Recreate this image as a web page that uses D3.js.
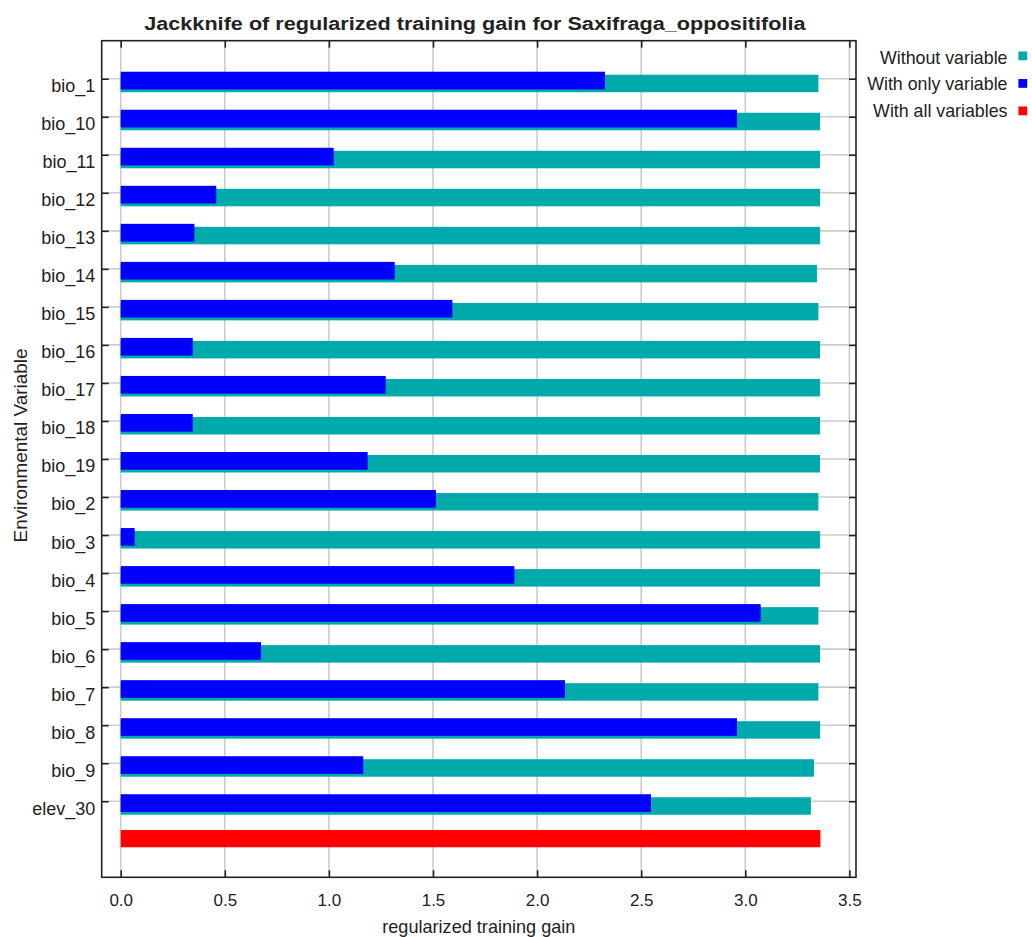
<!DOCTYPE html>
<html>
<head>
<meta charset="utf-8">
<script src="https://cdn.jsdelivr.net/npm/d3@7"></script>
<style>
  html, body { margin: 0; padding: 0; background: #fff; }
  svg { display: block; }
  text { font-family: "Liberation Sans", Arial, sans-serif; fill: #222; }
</style>
</head>
<body>
<svg id="chart" width="1032" height="937"></svg>
<script>
// Jackknife results for the MaxEnt model (regularized training gain)
const variables = ["bio_1", "bio_10", "bio_11", "bio_12", "bio_13", "bio_14", "bio_15",
  "bio_16", "bio_17", "bio_18", "bio_19", "bio_2", "bio_3", "bio_4", "bio_5",
  "bio_6", "bio_7", "bio_8", "bio_9", "elev_30"];
const withoutVariable = [3.351, 3.359, 3.359, 3.359, 3.359, 3.344, 3.351,
  3.359, 3.359, 3.359, 3.359, 3.351, 3.359, 3.359, 3.351,
  3.359, 3.351, 3.359, 3.330, 3.315];
const withOnlyVariable = [2.326, 2.960, 1.023, 0.459, 0.354, 1.316, 1.593,
  0.346, 1.273, 0.346, 1.186, 1.514, 0.067, 1.891, 3.074,
  0.674, 2.134, 2.960, 1.165, 2.547];
const withAllVariables = 3.361;
const xTickValues = [0, 0.5, 1.0, 1.5, 2.0, 2.5, 3.0, 3.5];
const legendLabels = ["Without variable", "With only variable", "With all variables"];
const legendColors = ["#00aaaa", "#0000ff", "#ff0000"];

const titleText = "Jackknife of regularized training gain for Saxifraga_oppositifolia";
const xTitle = "regularized training gain";
const yTitle = "Environmental Variable";

// layout
const frame = { left: 101.7, right: 856, top: 40.7, bottom: 877.3 };
const ALL_KEY = "__all__";

const svg = d3.select("#chart");
svg.append("rect").attr("width", 1032).attr("height", 937).attr("fill", "#fff");

const x = d3.scaleLinear().domain([0, 3.5]).range([120.7, 849.4]);
const y = d3.scalePoint()
  .domain([...variables, ALL_KEY])
  .range([frame.top, frame.bottom])
  .padding(1);

const rows = variables.map((v, i) => ({ name: v, without: withoutVariable[i], only: withOnlyVariable[i] }));

// grid lines
const grid = svg.append("g");
grid.selectAll("line.vg").data(xTickValues).join("line")
  .attr("class", "vg")
  .attr("x1", d => x(d)).attr("x2", d => x(d))
  .attr("y1", frame.top).attr("y2", frame.bottom)
  .attr("stroke", "#cccccc").attr("stroke-width", 1.6);
grid.selectAll("line.hg").data(variables).join("line")
  .attr("class", "hg")
  .attr("x1", frame.left).attr("x2", frame.right)
  .attr("y1", d => y(d)).attr("y2", d => y(d))
  .attr("stroke", "#cccccc").attr("stroke-width", 1.6);

// bars
const bars = svg.append("g");
bars.selectAll("rect.without").data(rows).join("rect")
  .attr("class", "without")
  .attr("x", x(0))
  .attr("y", d => y(d.name) - 4)
  .attr("width", d => x(d.without) - x(0))
  .attr("height", 17.5)
  .attr("fill", legendColors[0]);
bars.selectAll("rect.only").data(rows).join("rect")
  .attr("class", "only")
  .attr("x", x(0))
  .attr("y", d => y(d.name) - 7)
  .attr("width", d => x(d.only) - x(0))
  .attr("height", 17.7)
  .attr("fill", legendColors[1]);
bars.append("rect")
  .attr("x", x(0))
  .attr("y", y(ALL_KEY) - 9.3)
  .attr("width", x(withAllVariables) - x(0))
  .attr("height", 17.3)
  .attr("fill", legendColors[2]);

// axes (ticks point inward on all four sides)
function styleAxis(g) {
  g.select(".domain").remove();
  g.selectAll(".tick line").attr("stroke", "#222").attr("stroke-width", 1.6);
}
const yLeft = d3.axisLeft(y).tickValues(variables).tickSize(-7).tickPadding(6.5);
svg.append("g").attr("transform", `translate(${frame.left},0)`).call(yLeft).call(styleAxis)
  .selectAll("text").attr("font-size", 18).attr("dy", "0.72em")
  .style("font-family", '"Liberation Sans", Arial, sans-serif').attr("fill", "#222");
const yRight = d3.axisRight(y).tickValues(variables).tickSize(-7).tickFormat("");
svg.append("g").attr("transform", `translate(${frame.right},0)`).call(yRight).call(styleAxis);

const xBottom = d3.axisBottom(x).tickValues(xTickValues).tickSize(-7).tickPadding(17)
  .tickFormat(d3.format(".1f"));
svg.append("g").attr("transform", `translate(0,${frame.bottom})`).call(xBottom).call(styleAxis)
  .selectAll("text").attr("font-size", 17)
  .style("font-family", '"Liberation Sans", Arial, sans-serif').attr("fill", "#222");
const xTop = d3.axisTop(x).tickValues(xTickValues).tickSize(-7).tickFormat("");
svg.append("g").attr("transform", `translate(0,${frame.top})`).call(xTop).call(styleAxis);

// plot frame
svg.append("rect")
  .attr("x", frame.left).attr("y", frame.top)
  .attr("width", frame.right - frame.left).attr("height", frame.bottom - frame.top)
  .attr("fill", "none").attr("stroke", "#222").attr("stroke-width", 1.6);

// titles (the heading font is a wide bold face, stretched horizontally)
const cx = (frame.left + frame.right) / 2;
svg.append("text")
  .attr("transform", `translate(${cx - 4},30) scale(1.17,1)`)
  .attr("text-anchor", "middle").attr("font-size", 18.5).attr("font-weight", "bold")
  .attr("fill", "#111")
  .text(titleText);
svg.append("text")
  .attr("x", cx).attr("y", 933)
  .attr("text-anchor", "middle").attr("font-size", 18.1)
  .text(xTitle);
svg.append("text")
  .attr("transform", "translate(26.5,445.5) rotate(-90)")
  .attr("text-anchor", "middle").attr("font-size", 18.9)
  .text(yTitle);

// legend
const legend = svg.append("g");
legend.selectAll("text").data(legendLabels).join("text")
  .attr("x", 1007.5).attr("y", (d, i) => 64 + i * 26.45)
  .attr("text-anchor", "end").attr("font-size", 17.8)
  .text(d => d);
legend.selectAll("rect").data(legendColors).join("rect")
  .attr("x", 1018.4).attr("y", (d, i) => 51.5 + i * 27.5)
  .attr("width", 8.8).attr("height", 8.8)
  .attr("fill", d => d);
</script>
</body>
</html>
